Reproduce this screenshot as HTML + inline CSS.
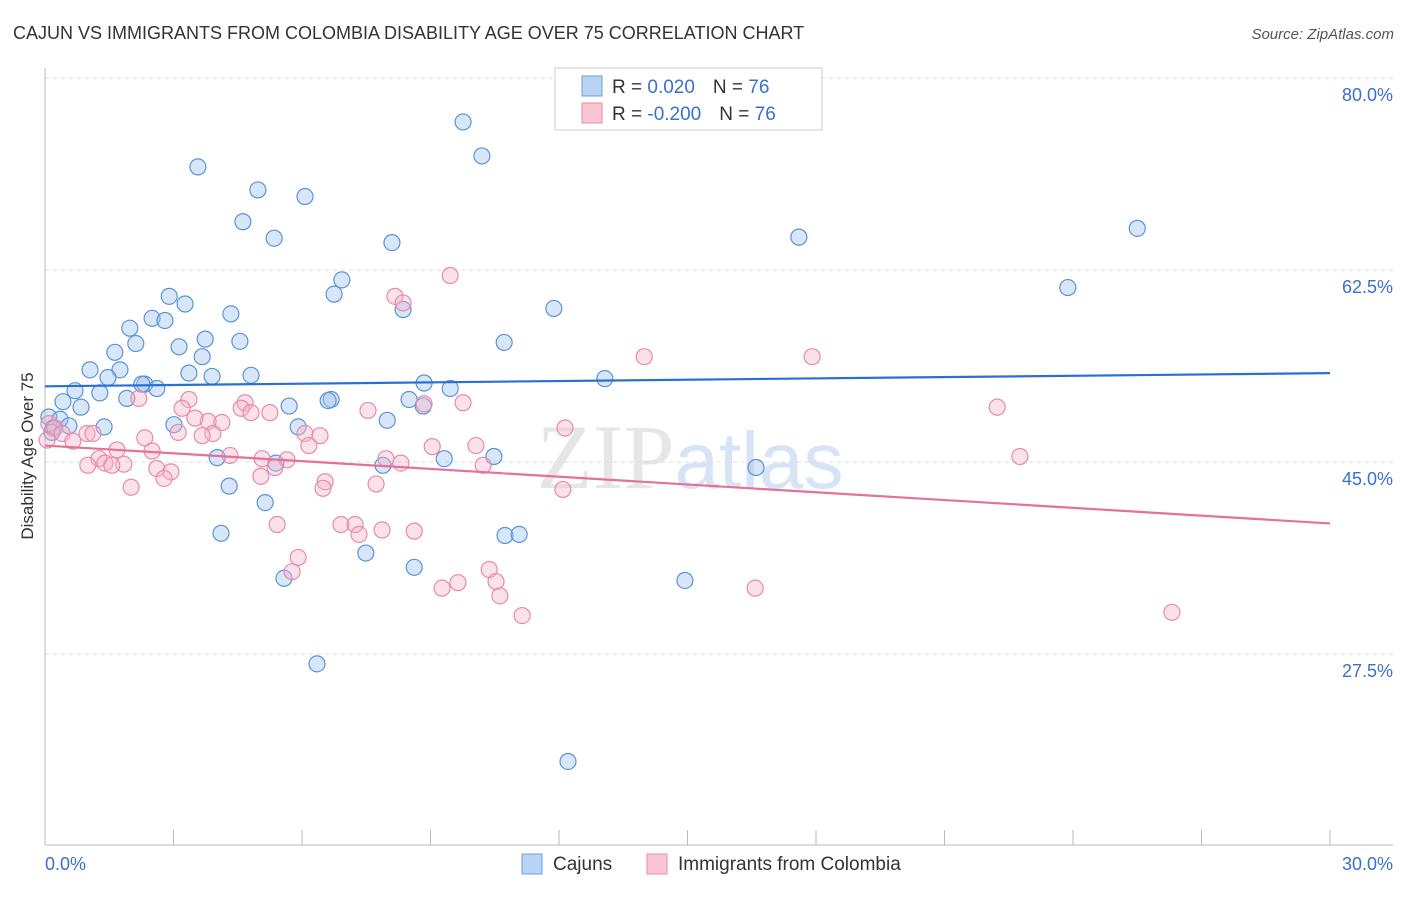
<!DOCTYPE html>
<html><head><meta charset="utf-8"><style>
body{margin:0;background:#fff;font-family:"Liberation Sans",sans-serif;}
svg text{font-family:"Liberation Sans",sans-serif;}
</style></head><body>
<svg id="chart" width="1406" height="892" viewBox="0 0 1406 892">
<text x="13" y="39" font-size="18" fill="#333">CAJUN VS IMMIGRANTS FROM COLOMBIA DISABILITY AGE OVER 75 CORRELATION CHART</text>
<text x="1394" y="39" font-size="15" fill="#555" text-anchor="end" font-style="italic">Source: ZipAtlas.com</text>
<text x="690" y="488" font-size="92" text-anchor="middle" fill="#e6e6e6" style="font-family:'Liberation Serif',serif">ZIP<tspan fill="#d6e4f5" font-size="80" style="font-family:'Liberation Sans',sans-serif">atlas</tspan></text>
<g id="grid"></g><g id="axes"></g><g id="pts"></g><g id="lines"></g>
<text transform="translate(33,456) rotate(-90)" font-size="17" fill="#333" text-anchor="middle">Disability Age Over 75</text>
<g>
<rect x="555" y="68" width="267" height="62" fill="#fff" stroke="#ccc"/>
<rect x="582" y="76" width="20" height="20" fill="#b9d3f5" stroke="#6a9fd8"/>
<rect x="582" y="103" width="20" height="20" fill="#f9c6d6" stroke="#e88aab"/>
<text x="612" y="93" font-size="19" fill="#333">R =  <tspan fill="#3a6fd0">  0.020</tspan><tspan dx="18" fill="#333">N = </tspan><tspan fill="#3a6fd0">76</tspan></text>
<text x="612" y="120" font-size="19" fill="#333">R = <tspan fill="#3a6fd0"> -0.200</tspan><tspan dx="18" fill="#333">N = </tspan><tspan fill="#3a6fd0">76</tspan></text>
</g>
<g>
<rect x="522" y="854" width="20" height="20" fill="#b9d3f5" stroke="#6a9fd8"/>
<text x="553" y="870" font-size="19" fill="#333">Cajuns</text>
<rect x="647" y="854" width="20" height="20" fill="#f9c6d6" stroke="#e88aab"/>
<text x="678" y="870" font-size="19" fill="#333">Immigrants from Colombia</text>
</g>
</svg>
<script>
const blueX=[3.57,9.76,10.20,4.97,6.07,4.62,5.35,8.10,17.60,25.50,23.88,6.93,6.75,2.90,3.27,8.36,11.88,4.34,2.50,2.80,1.98,3.74,4.55,2.12,3.13,10.72,1.63,3.67,1.75,1.05,3.36,3.90,4.81,1.47,2.33,2.61,2.26,13.07,8.85,9.46,0.70,1.28,1.91,0.42,0.84,8.50,6.68,6.61,5.70,8.83,0.09,0.35,7.99,0.56,1.38,0.19,3.01,5.91,0.16,4.02,9.32,10.48,5.39,7.89,16.60,4.30,5.14,4.11,10.74,11.07,7.49,8.62,5.58,14.94,6.35,12.21];
const blueY=[71.9,76.0,72.9,69.8,69.2,66.9,65.4,65.0,65.5,66.3,60.9,61.6,60.3,60.1,59.4,58.9,59.0,58.5,58.1,57.9,57.2,56.2,56.0,55.8,55.5,55.9,55.0,54.6,53.4,53.4,53.1,52.8,52.9,52.7,52.1,51.7,52.1,52.6,52.2,51.7,51.5,51.3,50.8,50.5,50.0,50.7,50.7,50.6,50.1,50.1,49.1,48.9,48.8,48.3,48.2,48.1,48.4,48.2,47.7,45.4,45.3,45.5,44.9,44.7,44.5,42.8,41.3,38.5,38.3,38.4,36.7,35.4,34.4,34.2,26.6,17.7];
const pinkX=[9.46,8.17,8.36,13.99,17.91,2.19,4.67,3.36,8.85,9.76,22.23,3.20,4.58,5.25,4.81,7.54,3.81,3.50,4.13,0.09,0.23,0.40,0.98,1.12,3.92,6.07,6.42,3.67,3.11,2.33,0.05,0.65,1.68,2.50,4.32,6.16,9.04,10.06,12.14,22.76,1.26,1.40,1.84,1.56,1.00,5.07,5.65,5.37,7.96,8.31,10.23,2.61,2.94,2.78,5.04,6.54,6.49,7.73,12.09,2.01,5.42,6.91,7.24,7.87,8.62,7.33,5.91,5.77,10.37,10.53,9.64,9.27,10.62,16.58,11.14,26.31];
const pinkY=[62.0,60.1,59.5,54.6,54.6,50.8,50.4,50.7,50.3,50.4,50.0,49.9,49.9,49.5,49.5,49.7,48.7,49.0,48.6,48.5,48.1,47.6,47.6,47.6,47.6,47.6,47.4,47.4,47.7,47.2,47.0,46.9,46.1,46.0,45.6,46.5,46.4,46.5,48.1,45.5,45.3,44.9,44.8,44.7,44.7,45.3,45.2,44.5,45.3,44.9,44.7,44.4,44.1,43.5,43.7,43.2,42.6,43.0,42.5,42.7,39.3,39.3,39.3,38.8,38.7,38.4,36.3,35.0,35.2,34.1,34.0,33.5,32.8,33.5,31.0,31.3];
const blueTrend=[51.9,53.1];
const pinkTrend=[46.5,39.4];
const yTicks=[80,62.5,45,27.5];
const yTickLabels=["80.0%","62.5%","45.0%","27.5%"];
const xTicks=[0,3,6,9,12,15,18,21,24,27,30];
const xMin=0,xMax=30;
const NS="http://www.w3.org/2000/svg";
const X=v=>45+(v-xMin)/(xMax-xMin)*1285;
const Y=v=>462-(v-45)*10.97;
function mk(t,a,p){const e=document.createElementNS(NS,t);for(const k in a)e.setAttribute(k,a[k]);p.appendChild(e);return e;}
const grid=document.getElementById('grid'),axes=document.getElementById('axes'),pts=document.getElementById('pts'),lines=document.getElementById('lines');
yTicks.forEach((v,i)=>{
 const l=mk('line',{x1:45,x2:1393,y1:Y(v),y2:Y(v),stroke:'#ddd','stroke-dasharray':'4,4'},grid);
 
 
 const t=mk('text',{x:1393,y:Y(v)+23,'font-size':18,fill:'#3a6fd0','text-anchor':'end'},axes);
 t.textContent=yTickLabels[i];
 
 
});
const ax=mk('line',{x1:45,x2:45,y1:68,y2:845,stroke:'#bbb'},axes);


const bx=mk('line',{x1:45,x2:1393,y1:845,y2:845,stroke:'#bbb'},axes);


xTicks.forEach(v=>{
 const l=mk('line',{x1:X(v),x2:X(v),y1:830,y2:845,stroke:'#bbb'},axes);
 
 
});
[[0,'0.0%','start',45],[30,'30.0%','end',1393]].forEach(d=>{
 const t=mk('text',{x:d[3],y:870,'font-size':18,fill:'#3a6fd0','text-anchor':d[2]},axes);
 t.textContent=d[1];
 
 
});
function series(xs,ys,fill,stroke,name){
 xs.forEach((x,i)=>{
  const c=mk('circle',{cx:X(x),cy:Y(ys[i]),r:8,fill:fill,'fill-opacity':0.4,stroke:stroke,'stroke-width':1.2},pts);
  
  
 });
}
series(blueX,blueY,'#9cc0ee','#5b93d6','cajun-point');
series(pinkX,pinkY,'#f6b4c9','#e88aab','colombia-point');
const bl=mk('line',{x1:X(0),x2:X(30),y1:Y(blueTrend[0]),y2:Y(blueTrend[1]),stroke:'#2a6fd6','stroke-width':2.2},lines);


const pl=mk('line',{x1:X(0),x2:X(30),y1:Y(pinkTrend[0]),y2:Y(pinkTrend[1]),stroke:'#e5709a','stroke-width':2.2},lines);


</script>
</body></html>
